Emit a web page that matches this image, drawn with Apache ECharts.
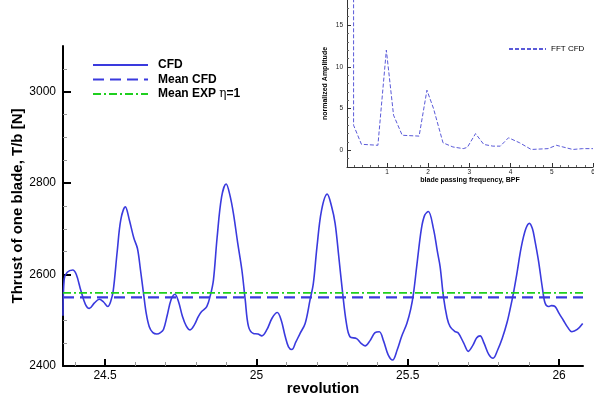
<!DOCTYPE html>
<html><head><meta charset="utf-8">
<script src="https://cdn.jsdelivr.net/npm/echarts@6/dist/echarts.min.js"></script>
<style>html,body{margin:0;padding:0;background:#fff}#c{width:594px;height:403px}</style>
</head><body><div id="c"></div>
<script>
// ---- main chart data ----
const revolution = [24.361,24.365,24.375,24.393,24.405,24.420,24.435,24.448,24.465,24.481,24.495,24.509,24.518,24.527,24.540,24.552,24.567,24.580,24.595,24.607,24.617,24.627,24.636,24.646,24.658,24.671,24.683,24.693,24.705,24.718,24.731,24.743,24.755,24.768,24.781,24.795,24.808,24.819,24.836,24.848,24.858,24.870,24.885,24.900,24.912,24.924,24.938,24.952,24.963,24.974,24.990,25.005,25.018,25.035,25.052,25.069,25.082,25.095,25.106,25.117,25.130,25.144,25.161,25.177,25.188,25.200,25.215,25.234,25.248,25.260,25.272,25.285,25.297,25.309,25.331,25.345,25.359,25.375,25.392,25.406,25.420,25.435,25.450,25.465,25.480,25.497,25.510,25.519,25.530,25.545,25.556,25.568,25.585,25.598,25.607,25.618,25.630,25.640,25.655,25.667,25.685,25.700,25.715,25.728,25.739,25.752,25.768,25.782,25.797,25.812,25.828,25.840,25.849,25.860,25.875,25.890,25.902,25.912,25.920,25.932,25.945,25.954,25.965,25.975,25.987,26.000,26.014,26.028,26.042,26.060,26.078];
const thrustCFD = [2510,2590,2605,2610,2600,2565,2535,2526,2538,2546,2540,2530,2540,2565,2650,2720,2748,2720,2680,2657,2610,2559,2515,2486,2473,2470,2473,2480,2510,2545,2557,2540,2510,2488,2479,2490,2508,2519,2530,2555,2588,2680,2770,2798,2775,2734,2670,2610,2545,2486,2471,2470,2466,2480,2505,2517,2500,2465,2442,2436,2452,2471,2493,2544,2580,2660,2740,2776,2750,2712,2640,2559,2495,2464,2460,2450,2444,2455,2473,2475,2455,2425,2413,2435,2465,2493,2525,2559,2620,2700,2730,2738,2700,2650,2617,2551,2505,2486,2476,2472,2450,2432,2445,2462,2466,2450,2425,2417,2435,2460,2495,2530,2559,2600,2660,2700,2712,2700,2675,2630,2570,2537,2530,2532,2530,2515,2500,2485,2475,2480,2493];
const meanCFD = 2550;
const meanEXP = 2560;
const xTicks = [24.5, 25, 25.5, 26];
const xMinor = [24.4,24.6,24.7,24.8,24.9,25.1,25.2,25.3,25.4,25.6,25.7,25.8,25.9];
const yTicks = [2400, 2600, 2800, 3000];
const yMinor = [2450,2500,2550,2650,2700,2750,2850,2900,2950,3050];
// ---- inset FFT data ----
const bpf    = [0.19, 0.19, 0.38, 0.78, 0.985, 1.16, 1.37, 1.78, 1.97, 2.13, 2.36, 2.60, 2.85, 2.95, 3.15, 3.35, 3.57, 3.75, 3.95, 4.22, 4.50, 4.91, 5.11, 5.27, 5.51, 5.75, 6.0];
const fftAmp = [80,   3.0,  0.72, 0.6,  12.0,  4.2,  1.8,  1.7,  7.2,  5.0,  0.9,  0.4,  0.2,  0.35, 2.0,  0.7,  0.5,  0.5,  1.5,  0.9,  0.1,  0.2,  0.6,  0.4,  0.1,  0.2,  0.2];
const fTicks = [1,2,3,4,5,6];
const fMinor = [0.2,0.4,0.6,0.8,1.2,1.4,1.6,1.8,2.2,2.4,2.6,2.8,3.2,3.4,3.6,3.8,4.2,4.4,4.6,4.8,5.2,5.4,5.6,5.8];
const aTicks = [0,5,10,15];
const aMinor = [-1,1,2,3,4,6,7,8,9,11,12,13,14,16,17];

const FONT = "'Liberation Sans', Arial, sans-serif";
const BLUE = '#3a3ade';
const GREEN = '#1ecf1e';
const FBLUE = '#5a5ad8';
const XMIN = 24.361, XMAX = 26.079;

const chart = echarts.init(document.getElementById('c'), null, {renderer:'canvas'});
const cfd = revolution.map((x,i)=>[x, thrustCFD[i]]);
const fft = bpf.map((x,i)=>[x, fftAmp[i]]);
const plain = v => String(v);

chart.setOption({
  animation:false,
  backgroundColor:'#fff',
  grid:[
    {left:63, top:46, width:520, height:320, containLabel:false, outerBoundsMode:'none'},
    {left:347, top:0, width:246, height:167, containLabel:false, outerBoundsMode:'none'}
  ],
  xAxis:[
    {type:'value', gridIndex:0, min:XMIN, max:XMAX,
     name:'revolution', nameLocation:'middle', nameGap:15, nameMoveOverlap:false,
     nameTextStyle:{fontFamily:FONT, fontSize:15, fontWeight:'bold', color:'#000', verticalAlign:'top'},
     axisLine:{show:true, onZero:false, lineStyle:{color:'#000', width:2}},
     axisTick:{show:true, inside:true, length:7, lineStyle:{color:'#000', width:2}, customValues:xTicks},
     axisLabel:{customValues:xTicks, formatter:plain, fontFamily:FONT, fontSize:12, color:'#000', margin:4},
     splitLine:{show:false}},
    {type:'value', gridIndex:0, min:XMIN, max:XMAX, position:'bottom',
     axisLine:{show:false, onZero:false}, axisLabel:{show:false}, splitLine:{show:false},
     axisTick:{show:true, inside:true, length:4, lineStyle:{color:'#999', width:1}, customValues:xMinor}},
    {type:'value', gridIndex:1, min:0.03, max:6,
     name:'blade passing frequency, BPF', nameLocation:'middle', nameGap:10, nameMoveOverlap:false,
     nameTextStyle:{fontFamily:FONT, fontSize:7, fontWeight:'bold', color:'#000', verticalAlign:'top'},
     axisLine:{show:true, onZero:false, lineStyle:{color:'#333', width:1}},
     axisTick:{show:true, inside:true, length:4, lineStyle:{color:'#333', width:1}, customValues:fTicks},
     axisLabel:{customValues:fTicks, formatter:plain, fontFamily:FONT, fontSize:6.5, color:'#222', margin:2},
     splitLine:{show:false}},
    {type:'value', gridIndex:1, min:0.03, max:6, position:'bottom',
     axisLine:{show:false, onZero:false}, axisLabel:{show:false}, splitLine:{show:false},
     axisTick:{show:true, inside:true, length:2, lineStyle:{color:'#666', width:1}, customValues:fMinor}}
  ],
  yAxis:[
    {type:'value', gridIndex:0, min:2400, max:3100,
     name:'Thrust of one blade, T/b [N]', nameLocation:'middle', nameGap:38, nameRotate:90, nameMoveOverlap:false,
     nameTextStyle:{fontFamily:FONT, fontSize:15, fontWeight:'bold', color:'#000'},
     axisLine:{show:true, onZero:false, lineStyle:{color:'#000', width:2}},
     axisTick:{show:true, inside:true, length:8, lineStyle:{color:'#000', width:2}, customValues:yTicks},
     axisLabel:{customValues:yTicks, formatter:plain, fontFamily:FONT, fontSize:12, color:'#000', margin:7},
     splitLine:{show:false}},
    {type:'value', gridIndex:0, min:2400, max:3100, position:'left',
     axisLine:{show:false, onZero:false}, axisLabel:{show:false}, splitLine:{show:false},
     axisTick:{show:true, inside:true, length:4, lineStyle:{color:'#999', width:1}, customValues:yMinor}},
    {type:'value', gridIndex:1, min:-2, max:18,
     name:'normalized Amplitude', nameLocation:'middle', nameGap:18, nameRotate:90, nameMoveOverlap:false,
     nameTextStyle:{fontFamily:FONT, fontSize:7, fontWeight:'bold', color:'#000'},
     axisLine:{show:true, onZero:false, lineStyle:{color:'#333', width:1}},
     axisTick:{show:true, inside:true, length:4, lineStyle:{color:'#333', width:1}, customValues:aTicks},
     axisLabel:{customValues:aTicks, formatter:plain, fontFamily:FONT, fontSize:6.5, color:'#222', margin:4},
     splitLine:{show:false}},
    {type:'value', gridIndex:1, min:-2, max:18, position:'left',
     axisLine:{show:false, onZero:false}, axisLabel:{show:false}, splitLine:{show:false},
     axisTick:{show:true, inside:true, length:2, lineStyle:{color:'#666', width:1}, customValues:aMinor}}
  ],
  legend:[
    {data:['CFD','Mean CFD','Mean EXP η=1'], orient:'vertical', left:87, top:54,
     itemWidth:55, itemHeight:12, itemGap:2.5, selectedMode:false,
     itemStyle:{opacity:0},
     formatter:n=>n.replace('η','{e|η}'),
     textStyle:{fontFamily:FONT, fontSize:12, fontWeight:'bold', color:'#000', padding:[0,0,0,5],
       rich:{e:{fontFamily:"'DejaVu Serif', serif", fontSize:12, fontWeight:'normal', color:'#000'}}}},
    {data:['FFT CFD'], left:503, top:40, itemWidth:37, itemHeight:10, selectedMode:false,
     itemStyle:{opacity:0},
     textStyle:{fontFamily:FONT, fontSize:8, color:'#000'}}
  ],
  series:[
    {name:'CFD', type:'line', xAxisIndex:0, yAxisIndex:0, data:cfd, showSymbol:false, symbol:'none',
     smooth:0.35, clip:true, lineStyle:{color:BLUE, width:1.6}, itemStyle:{color:BLUE}},
    {name:'Mean CFD', type:'line', xAxisIndex:0, yAxisIndex:0, data:[[XMIN,meanCFD],[XMAX,meanCFD]],
     symbol:'none', lineStyle:{color:BLUE, width:2.2, type:[11,6]}, itemStyle:{color:BLUE}},
    {name:'Mean EXP η=1', type:'line', xAxisIndex:0, yAxisIndex:0, data:[[XMIN,meanEXP],[XMAX,meanEXP]],
     symbol:'none', lineStyle:{color:GREEN, width:1.6, type:[8,3,2,3]}, itemStyle:{color:GREEN}},
    {name:'FFT CFD', type:'line', xAxisIndex:2, yAxisIndex:2, data:fft, symbol:'none', clip:true,
     lineStyle:{color:FBLUE, width:1, type:[4,2]}, itemStyle:{color:FBLUE}}
  ]
});
</script></body></html>
